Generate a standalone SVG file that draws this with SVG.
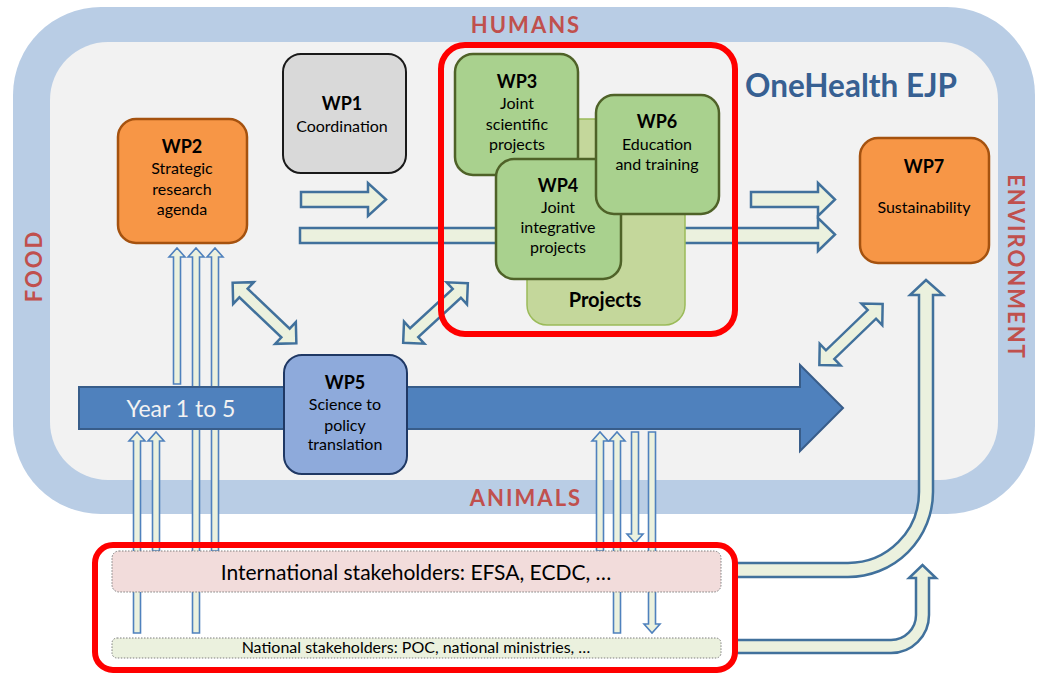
<svg xmlns="http://www.w3.org/2000/svg" width="1037" height="675" viewBox="0 0 1037 675">
<style>
text{font-family:Lato,"Liberation Sans",sans-serif;fill:#000;text-anchor:middle}
.t{font-size:16px}
.h{font-size:18px;font-weight:bold}
.ctx{font-size:22px;font-weight:bold;fill:#c0504d;letter-spacing:2px}
.hollow{fill:#ebf1de;stroke:#41719c;stroke-width:2.5;stroke-linejoin:miter}
.thin{fill:#ebf1de;stroke:#4f81bd;stroke-width:1.6}
.green{fill:#a9d18e;stroke:#4f6228;stroke-width:2.5}
.orange{fill:#f79646;stroke:#a5520f;stroke-width:2.5}
.red{fill:none;stroke:#ff0000;stroke-width:6}
</style>
<defs>
<path id="dbl" d="M-44,0 L-29,-15 L-29,-6 L29,-6 L29,-15 L44,0 L29,15 L29,6 L-29,6 L-29,15 Z"/>
</defs>
<g id="background">
<rect x="13" y="7" width="1022" height="507" rx="88" fill="#b9cde5"/>
<rect x="50" y="42" width="948" height="438" rx="58" fill="#f2f2f2"/>
<text class="ctx" x="526" y="33">HUMANS</text>
<text class="ctx" x="526" y="506">ANIMALS</text>
<text class="ctx" transform="translate(42,266) rotate(-90)">FOOD</text>
<text class="ctx" transform="translate(1008,267) rotate(90)">ENVIRONMENT</text>
</g>
<g id="connectors">
<g id="thin-arrows">
<path class="thin" d="M133.5,633 L133.5,441 L129,441 L137,432 L145,441 L140.5,441 L140.5,633 Z"/>
<path class="thin" d="M152.5,551 L152.5,441 L148,441 L156,432 L164,441 L159.5,441 L159.5,551 Z"/>
<path class="thin" d="M173.5,384 L173.5,257 L169,257 L177,248 L185,257 L180.5,257 L180.5,384 Z"/>
<path class="thin" d="M192.5,633 L192.5,257 L188,257 L196,248 L204,257 L199.5,257 L199.5,633 Z"/>
<path class="thin" d="M211.5,551 L211.5,257 L207,257 L215,248 L223,257 L218.5,257 L218.5,551 Z"/>
<path class="thin" d="M596.5,551 L596.5,441 L592,441 L600,432 L608,441 L603.5,441 L603.5,551 Z"/>
<path class="thin" d="M613.5,633 L613.5,441 L609,441 L617,432 L625,441 L620.5,441 L620.5,633 Z"/>
<path class="thin" d="M631.5,432 L631.5,534 L627,534 L635,543 L643,534 L638.5,534 L638.5,432 Z"/>
<path class="thin" d="M648.5,432 L648.5,624 L644,624 L652,633 L660,624 L655.5,624 L655.5,432 Z"/>
</g>
<g id="timeline">
<path d="M79,387 L800,387 L800,365 L843,408 L800,451 L800,429 L79,429 Z" fill="#4f81bd" stroke="#385d8a" stroke-width="2"/>
<text x="181" y="417" style="font-size:23px;fill:#f2f2f2">Year 1 to 5</text>
</g>
<path class="hollow" d="M301,192 L368,192 L368,183 L386,199.5 L368,216 L368,207 L301,207 Z"/>
<path class="hollow" d="M300,228 L818,228 L818,218 L835,234.5 L818,251 L818,243 L300,243 Z"/>
<path class="hollow" d="M751,192 L818,192 L818,183 L835,199.5 L818,216 L818,207 L751,207 Z"/>
</g>
<g id="projects-group">
<rect x="527" y="119" width="158" height="206" rx="20" fill="#c4d79b" stroke="#9bbb59" stroke-width="1.5"/>
<text x="605" y="307" style="font-size:20px;font-weight:bold">Projects</text>
</g>
<g id="wp3">
<rect class="green" x="455" y="54" width="123" height="121" rx="18"/>
<text class="h" x="517" y="88">WP3</text>
<text class="t" x="517" y="109">Joint</text>
<text class="t" x="517" y="130">scientific</text>
<text class="t" x="517" y="150">projects</text>
</g>
<g id="wp4">
<rect class="green" x="496" y="159" width="125" height="120" rx="18"/>
<text class="h" x="558" y="192">WP4</text>
<text class="t" x="558" y="213">Joint</text>
<text class="t" x="558" y="233">integrative</text>
<text class="t" x="558" y="253">projects</text>
</g>
<g id="wp6">
<rect class="green" x="596" y="95" width="123" height="119" rx="18"/>
<text class="h" x="657" y="128">WP6</text>
<text class="t" x="657" y="150">Education</text>
<text class="t" x="657" y="170">and training</text>
</g>
<g id="wp1">
<rect x="283" y="54" width="123" height="119" rx="18" fill="#d9d9d9" stroke="#1a1a1a" stroke-width="2"/>
<text class="h" x="342" y="110">WP1</text>
<text class="t" x="342" y="132">Coordination</text>
</g>
<g id="wp2">
<rect class="orange" x="118" y="119" width="129" height="124" rx="18"/>
<text class="h" x="182" y="153">WP2</text>
<text class="t" x="182" y="174">Strategic</text>
<text class="t" x="182" y="195">research</text>
<text class="t" x="182" y="215">agenda</text>
</g>
<g id="wp7">
<rect class="orange" x="860" y="138" width="129" height="125" rx="18"/>
<text class="h" x="924" y="173">WP7</text>
<text class="t" x="924" y="213">Sustainability</text>
</g>
<g id="wp5">
<rect x="284" y="355" width="123" height="119" rx="18" fill="#8eaadb" stroke="#1f3864" stroke-width="2"/>
<text class="h" x="345" y="389">WP5</text>
<text class="t" x="345" y="410">Science to</text>
<text class="t" x="345" y="431">policy</text>
<text class="t" x="345" y="450">translation</text>
</g>
<g id="connectors-2">
<use href="#dbl" class="hollow" transform="translate(264.5,313) rotate(43.6)"/>
<use href="#dbl" class="hollow" transform="translate(435.5,313) rotate(-42.7)"/>
<use href="#dbl" class="hollow" transform="translate(851,334.5) rotate(-44)"/>
<path class="hollow" d="M735,563 L848,563 A71,71 0 0 0 919,492 L919,295 L910,295 L926,280 L943,295 L933,295 L933,492 A85,85 0 0 1 848,577 L735,577 Z"/>
<path class="hollow" d="M735,640 L891,640 A25,25 0 0 0 916,615 L916,578 L909,578 L922.5,565 L936,578 L929,578 L929,615 A38,38 0 0 1 891,653 L735,653 Z"/>
</g>
<g id="international">
<rect x="112" y="551" width="609" height="41" rx="7" fill="#f2dcdb" stroke="#7f7f7f" stroke-width="1" stroke-dasharray="1.5,1.5"/>
<text x="416" y="580" style="font-size:21px">International stakeholders: EFSA, ECDC, …</text>
</g>
<g id="national">
<rect x="112" y="638" width="609" height="20" rx="5" fill="#ebf1de" stroke="#7f7f7f" stroke-width="1" stroke-dasharray="1.5,1.5"/>
<text x="416" y="653" style="font-size:16px">National stakeholders: POC, national ministries, …</text>
</g>
<g id="highlights">
<rect class="red" x="441" y="45" width="294" height="289" rx="24"/>
<rect class="red" x="95" y="545" width="640" height="125" rx="18"/>
</g>
<g id="title">
<text x="851" y="97" style="font-size:31.5px;font-weight:bold;fill:#376092">OneHealth EJP</text>
</g>
</svg>
